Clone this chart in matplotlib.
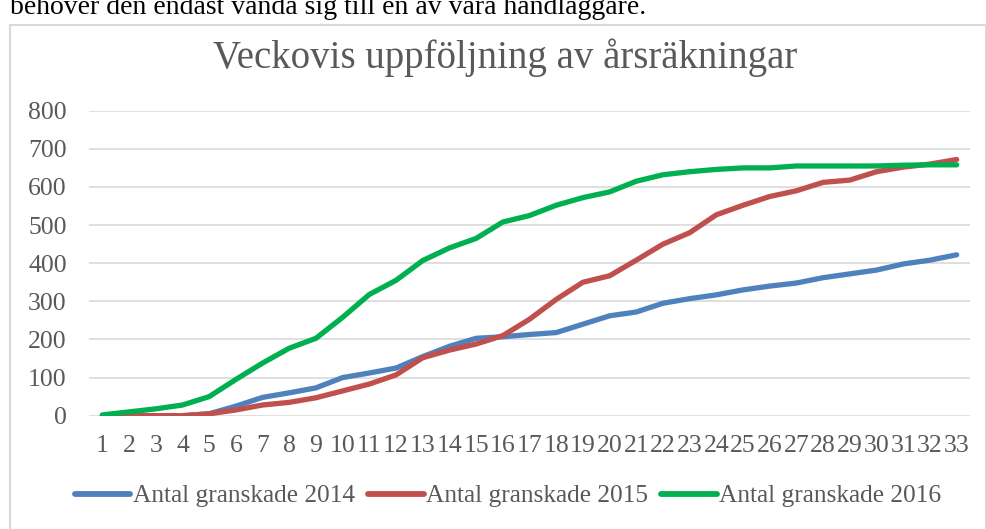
import matplotlib
matplotlib.use("Agg")
import matplotlib.pyplot as plt
from matplotlib.patches import Rectangle

weeks = list(range(1, 34))
week_labels = [str(w) for w in weeks]
series_2014 = [0, 0, 0, 0, 5, 25, 48, 60, 73, 100, 112, 125, 155, 182, 203, 207, 213,
               218, 240, 262, 272, 295, 307, 317, 330, 340, 348, 362, 372, 382, 398, 408, 422]
series_2015 = [0, 0, 0, 0, 5, 15, 28, 35, 47, 65, 83, 107, 152, 172, 188, 210, 253,
               305, 350, 367, 408, 450, 480, 527, 552, 575, 590, 612, 618, 640, 652, 660, 672]
series_2016 = [2, 10, 18, 28, 50, 95, 138, 177, 203, 258, 318, 355, 407, 440, 465, 508, 525,
               552, 572, 587, 615, 632, 640, 646, 650, 650, 655, 655, 655, 655, 657, 658, 658]
series_names = ["Antal granskade 2014", "Antal granskade 2015", "Antal granskade 2016"]
colors = ["#4F81BD", "#C0504D", "#00B050"]
title = "Veckovis uppföljning av årsräkningar"
top_text = "behöver den endast vända sig till en av våra handläggare."
yticks = [0, 100, 200, 300, 400, 500, 600, 700, 800]

W, H = 987, 529
plt.rcParams['font.family'] = ['Liberation Serif', 'DejaVu Serif']
fig = plt.figure(figsize=(W / 100, H / 100), dpi=100)

# outer chart frame
fig.patches.append(Rectangle((10 / W, -0.05), (W - 11) / W, 1 - 25 / H + 0.05,
                             transform=fig.transFigure, fill=False,
                             edgecolor="#d9d9d9", linewidth=1.5))
fig.text(10 / W, 1 - 14 / H, top_text, fontsize=20, va='baseline', ha='left', color='black')

ax = fig.add_axes([89 / W, 1 - 415.7 / H, (970 - 89) / W, (415.7 - 110.7) / H])
for vals, c, name in zip([series_2014, series_2015, series_2016], colors, series_names):
    ax.plot(weeks, vals, color=c, linewidth=3.8, solid_capstyle='round', label=name)

ax.set_xlim(0.5, 33.5)
ax.set_ylim(0, 800)
ax.set_yticks(yticks)
ax.set_yticklabels([str(v) for v in yticks])
ax.set_xticks(weeks)
ax.set_xticklabels(week_labels)
ax.grid(axis='y', color='#d9d9d9', linewidth=1.2)
ax.set_axisbelow(True)
for s in ax.spines.values():
    s.set_visible(False)
ax.tick_params(axis='both', length=0, labelsize=18.5, colors='#595959')
ax.tick_params(axis='y', pad=16)
ax.tick_params(axis='x', pad=14)

fig.text(505 / W, 1 - 58 / H, title, fontsize=28, ha='center', va='center', color='#595959')

leg = fig.legend(loc='center', bbox_to_anchor=(508 / W, 1 - 496 / H), ncol=3, frameon=False,
                 fontsize=18.3, handlelength=2.2, handletextpad=0.1, columnspacing=0.5,
                 labelcolor='#595959')
for line in leg.get_lines():
    line.set_linewidth(4.2)

fig.savefig("out.png", dpi=100)
